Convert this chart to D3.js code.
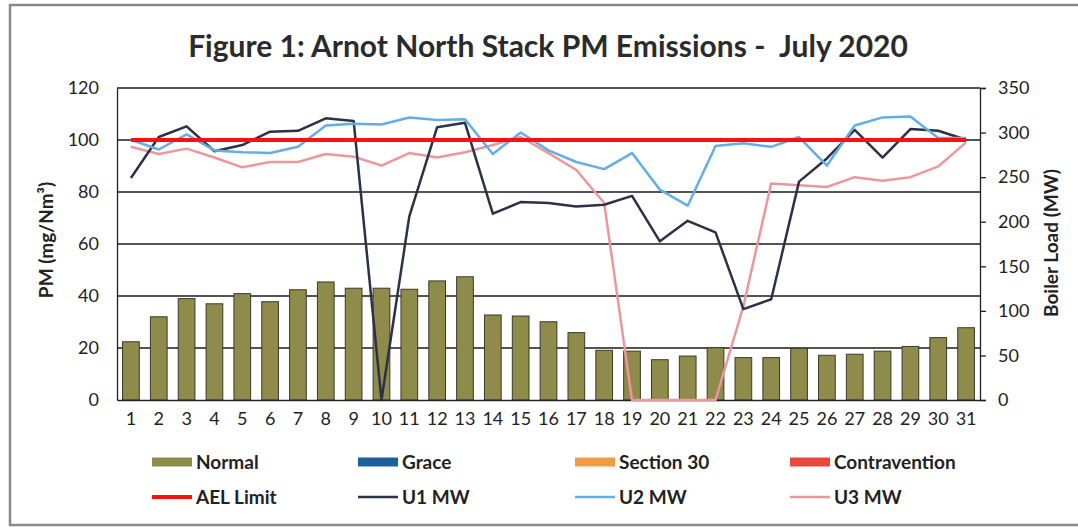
<!DOCTYPE html>
<html>
<head>
<meta charset="utf-8">
<script src="https://cdn.jsdelivr.net/npm/d3@7"></script>
<style>
  body { margin: 0; background: #fff; }
  svg { display: block; font-family: Lato, "Open Sans", sans-serif; }
</style>
</head>
<body>
<svg id="chart" width="1078" height="527"></svg>
<script>
// chart data
const days = d3.range(1, 32)
const pmNormal = [22.4, 32, 39, 37, 40.9, 37.8, 42.4, 45.4, 43, 43, 42.6, 45.8, 47.4, 32.7, 32.3, 30.1,
    25.9, 19.1, 18.8, 15.5, 16.9, 20.1, 16.3, 16.3, 19.9, 17.2, 17.6, 18.8, 20.6, 24, 27.8]
const aelLimit = days.map(() => 100)
const u1MW = [249, 295, 307, 279, 286, 301, 302, 316, 313, 0, 206, 306, 311, 209, 222, 221,
    217, 219, 229, 178, 201, 188, 102, 113, 245, 271, 303, 272, 304, 302, 292]
const u2MW = [292, 281, 298, 280, 278, 277, 284, 308, 310, 309, 317, 314, 315, 276, 300, 280,
    267, 259, 277, 236, 218, 285, 288, 284, 295, 263, 308, 317, 318, 294, 294]
const u3MW = [284, 276, 282, 272, 261, 267, 267, 276, 273, 263, 277, 272, 278, 286, 295, 277,
    258, 221, 0, 0, 0, 0, 105, 243, 241, 239, 250, 246, 250, 262, 289]
const leftTicks = [0, 20, 40, 60, 80, 100, 120]
const rightTicks = [0, 50, 100, 150, 200, 250, 300, 350]

const svg = d3.select("#chart")

// scanned frame
svg.append("rect")
    .attr("x", 10).attr("y", 5).attr("width", 1075).attr("height", 520)
    .attr("fill", "none").attr("stroke", "#8a8a8a").attr("stroke-width", 2.5)

svg.append("text")
    .attr("x", 548).attr("y", 57)
    .attr("text-anchor", "middle")
    .style("white-space", "pre")
    .attr("font-size", 30).attr("font-weight", "bold").attr("fill", "#2b2b2b")
    .text("Figure 1: Arnot North Stack PM Emissions -  July 2020")

const plotLeft = 117, plotRight = 980, plotTop = 88, plotBottom = 400

const x = d3.scaleBand().domain(days).range([plotLeft, plotRight]).paddingInner(0.4).paddingOuter(0.2)
const xc = d => x(d) + x.bandwidth() / 2
const yL = d3.scaleLinear().domain([0, 120]).range([plotBottom, plotTop])
const yR = d3.scaleLinear().domain([0, 350]).range([plotBottom, plotTop])

// gridlines
svg.append("g")
    .selectAll("line")
    .data(leftTicks.filter(t => t > 0))
    .enter()
    .append("line")
    .attr("x1", plotLeft).attr("x2", plotRight)
    .attr("y1", d => yL(d)).attr("y2", d => yL(d))
    .attr("stroke", "#1a1a1a").attr("stroke-width", 1.3)

// bars
svg.append("g")
    .selectAll("rect")
    .data(pmNormal)
    .enter()
    .append("rect")
    .attr("x", (d, i) => x(days[i]))
    .attr("y", d => yL(d))
    .attr("width", x.bandwidth())
    .attr("height", d => yL(0) - yL(d))
    .attr("fill", "#8e8b4b")
    .attr("stroke", "#3a3a2a").attr("stroke-width", 1)

// axes
const axL = svg.append("g")
    .attr("transform", "translate(" + plotLeft + ",0)")
    .call(d3.axisLeft(yL).tickValues(leftTicks).tickSize(0).tickPadding(18))
const axR = svg.append("g")
    .attr("transform", "translate(" + plotRight + ",0)")
    .call(d3.axisRight(yR).tickValues(rightTicks).tickSize(6).tickPadding(12))
const axB = svg.append("g")
    .attr("transform", "translate(0," + plotBottom + ")")
    .call(d3.axisBottom(x).tickSize(0).tickPadding(12))

for (const ax of [axL, axR, axB]) {
    ax.selectAll("text").attr("font-size", 18).attr("fill", "#222").attr("font-family", "Lato, sans-serif")
    ax.selectAll("path, line").attr("stroke", "#222").attr("stroke-width", 1.3)
}

// lines
const line = scale => d3.line()
    .x((d, i) => xc(days[i]))
    .y(d => scale(d))

const series = [
    { data: u3MW, scale: yR, color: "#ec979c", width: 2.5 },
    { data: u1MW, scale: yR, color: "#2b3146", width: 2.5 },
    { data: u2MW, scale: yR, color: "#63aee6", width: 2.5 },
    { data: aelLimit, scale: yL, color: "#ff1010", width: 4 }
]
series.forEach(s => {
    svg.append("path")
        .datum(s.data)
        .attr("d", line(s.scale))
        .attr("fill", "none")
        .attr("stroke", s.color)
        .attr("stroke-width", s.width)
        .attr("stroke-linejoin", "round")
})

// axis titles
svg.append("text")
    .attr("transform", "translate(53,240) rotate(-90)")
    .attr("text-anchor", "middle")
    .attr("font-size", 19).attr("font-weight", "bold").attr("fill", "#222")
    .text("PM (mg/Nm³)")
svg.append("text")
    .attr("transform", "translate(1058,243) rotate(-90)")
    .attr("text-anchor", "middle")
    .attr("font-size", 19).attr("font-weight", "bold").attr("fill", "#222")
    .text("Boiler Load (MW)")

// legend
const legend = [
    { name: "Normal", type: "box", color: "#8e8b4b", x: 152, y: 462 },
    { name: "Grace", type: "box", color: "#1f5f9e", x: 358, y: 462 },
    { name: "Section 30", type: "box", color: "#f39c45", x: 575, y: 462 },
    { name: "Contravention", type: "box", color: "#e8483e", x: 790, y: 462 },
    { name: "AEL Limit", type: "line", color: "#ff1010", x: 152, y: 497 },
    { name: "U1 MW", type: "line", color: "#2b3146", x: 358, y: 497 },
    { name: "U2 MW", type: "line", color: "#63aee6", x: 575, y: 497 },
    { name: "U3 MW", type: "line", color: "#ec979c", x: 790, y: 497 }
]
const lg = svg.append("g")
    .selectAll("g")
    .data(legend)
    .enter()
    .append("g")
    .attr("transform", d => "translate(" + d.x + "," + d.y + ")")

lg.filter(d => d.type == "box")
    .append("rect")
    .attr("x", 0).attr("y", -4.5).attr("width", 40).attr("height", 9)
    .attr("fill", d => d.color)
lg.filter(d => d.type == "line")
    .append("line")
    .attr("x1", 0).attr("x2", 40)
    .attr("stroke", d => d.color)
    .attr("stroke-width", d => d.name == "AEL Limit" ? 4 : 2.5)
lg.append("text")
    .attr("x", 44).attr("dy", "0.35em")
    .attr("font-size", 19).attr("font-weight", "bold").attr("fill", "#222")
    .text(d => d.name)
</script>
</body>
</html>
